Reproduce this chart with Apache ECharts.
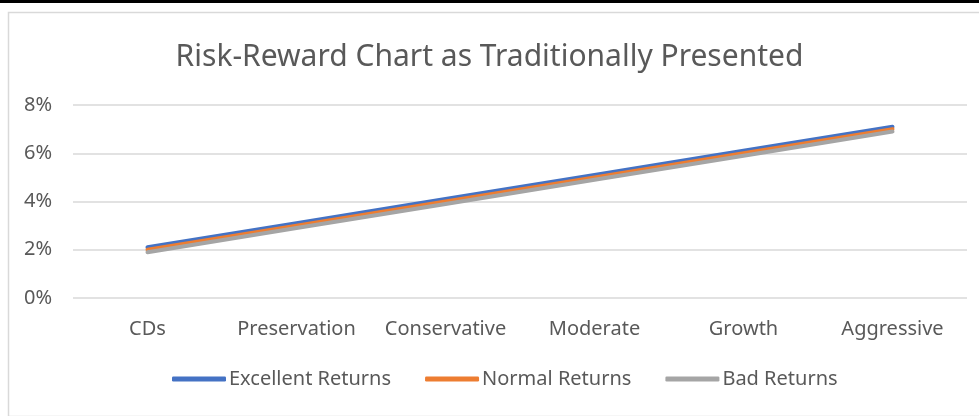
<!DOCTYPE html>
<html>
<head>
<meta charset="utf-8">
<script src="https://cdn.jsdelivr.net/npm/echarts@6/dist/echarts.min.js"></script>
<style>
  html, body { margin: 0; padding: 0; background: #fff; }
  #chart { width: 979px; height: 416px; }
</style>
</head>
<body>
<div id="chart"></div>
<script>
// categories and values
var categories = ['CDs', 'Preservation', 'Conservative', 'Moderate', 'Growth', 'Aggressive']
var excellentReturns = [2.1, 3.1, 4.1, 5.1, 6.1, 7.1]
var normalReturns = [2.0, 3.0, 4.0, 5.0, 6.0, 7.0]
var badReturns = [1.9, 2.9, 3.9, 4.9, 5.9, 6.9]
var seriesNames = ['Excellent Returns', 'Normal Returns', 'Bad Returns']

var font = 'Noto Sans'
var textColor = '#595959'

var chart = echarts.init(document.getElementById('chart'))
chart.setOption({
  animation: false,
  color: ['#4472C4', '#ED7D31', '#A5A5A5'],
  graphic: [
    // black strip across the top
    { type: 'rect', left: 0, top: 0, shape: { width: 979, height: 3 }, style: { fill: '#000' } },
    // chart area frame
    { type: 'rect', left: 6, top: 10, shape: { width: 980, height: 404 }, style: { fill: 'none', stroke: '#d9d9d9', lineWidth: 1.5 } }
  ],
  title: {
    text: 'Risk-Reward Chart as Traditionally Presented',
    left: 'center',
    top: 37,
    textStyle: { fontFamily: font, fontSize: 30, fontWeight: 'normal', color: textColor }
  },
  legend: {
    bottom: 22,
    left: 167,
    icon: 'roundRect',
    itemWidth: 54,
    itemHeight: 5,
    itemGap: 34,
    textStyle: { fontFamily: font, fontSize: 20, color: textColor, padding: [0, 0, 0, -2] },
    data: seriesNames
  },
  grid: { left: 73, right: 12, top: 105, bottom: 118 },
  xAxis: {
    type: 'category',
    data: categories,
    boundaryGap: true,
    axisLine: { show: false },
    axisTick: { show: false },
    axisLabel: { interval: 0, hideOverlap: false, fontFamily: font, fontSize: 20, color: textColor, margin: 21 }
  },
  yAxis: {
    type: 'value',
    min: 0,
    max: 8,
    interval: 2,
    axisLine: { show: false },
    axisTick: { show: false },
    axisLabel: { fontFamily: font, fontSize: 20, color: textColor, margin: 21, formatter: '{value}%' },
    splitLine: { lineStyle: { color: '#d9d9d9', width: 1.5 } }
  },
  series: [
    { name: seriesNames[0], type: 'line', data: excellentReturns, symbol: 'none', lineStyle: { width: 4, cap: 'round' } },
    { name: seriesNames[1], type: 'line', data: normalReturns, symbol: 'none', lineStyle: { width: 4, cap: 'round' } },
    { name: seriesNames[2], type: 'line', data: badReturns, symbol: 'none', lineStyle: { width: 4, cap: 'round' } }
  ]
})
</script>
</body>
</html>
